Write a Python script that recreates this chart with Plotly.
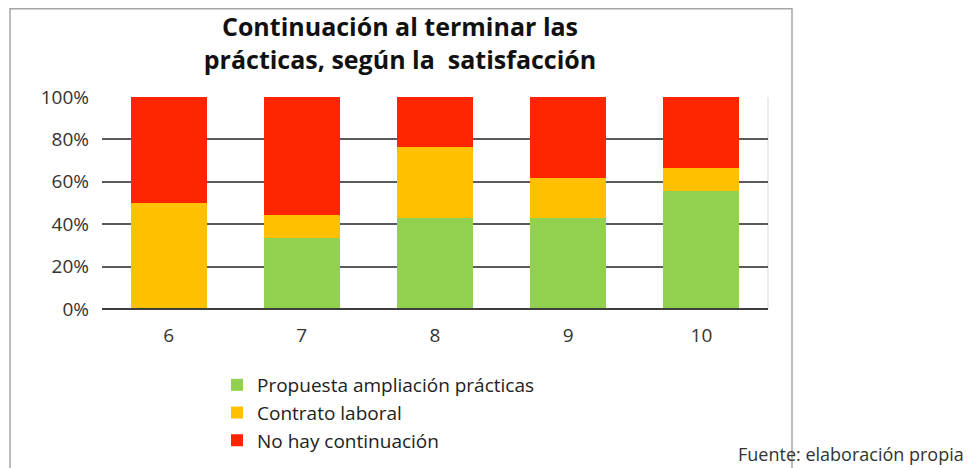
import plotly.graph_objects as go

categories = ["6", "7", "8", "9", "10"]
propuesta = [0, 33.3, 42.9, 42.9, 55.6]
contrato = [50, 11.1, 33.3, 19.0, 11.1]
no_continua = [50, 55.6, 23.8, 38.1, 33.3]
series_names = ["Propuesta ampliación prácticas", "Contrato laboral", "No hay continuación"]
colors = ["#92D050", "#FFC000", "#FF2500"]
y_ticks = [0, 20, 40, 60, 80, 100]
y_labels = ["0%", "20%", "40%", "60%", "80%", "100%"]

FONT = "Open Sans"
fig = go.Figure()
for name, vals, col in zip(series_names, [propuesta, contrato, no_continua], colors):
    fig.add_trace(go.Bar(x=categories, y=vals, name=name, marker_color=col,
                         marker_line_width=0))

# page body has an 8px margin, so figure coords = reference coords - 8
OFF = 8
L, R, T, B = 102 - OFF, 768 - OFF, 97 - OFF, 309 - OFF
W, H = R - L, B - T
def px(x): return (x - OFF - L) / W
def py(y): return (B - (y - OFF)) / H

fig.update_layout(
    width=976, height=468,
    margin=dict(l=L, r=976 - R, t=T, b=468 - B),
    paper_bgcolor="white", plot_bgcolor="white",
    barmode="stack", bargap=0.43,
    font=dict(family=FONT, size=19, color="#333333"),
    title=dict(text="<b>Continuación al terminar las<br>prácticas, según la  satisfacción</b>",
               x=px(400), xanchor="center", xref="paper",
               y=1 - (36 - OFF) / 468, yanchor="middle",
               font=dict(family=FONT, size=25, color="#111111")),
    xaxis=dict(type="category", showgrid=False, showline=False, ticks="",
               ticklabelstandoff=13, tickfont=dict(size=19, color="#333333")),
    yaxis=dict(range=[0, 100], tickvals=y_ticks, ticktext=y_labels,
               showgrid=True, gridcolor="#5a5a5a", gridwidth=2,
               zeroline=False, showline=False, ticks="",
               ticklabelstandoff=12, tickfont=dict(size=19, color="#333333")),
    legend=dict(x=px(217), y=py(366), xanchor="left", yanchor="top",
                orientation="v", font=dict(size=19, color="#222222"),
                traceorder="normal", bgcolor="rgba(0,0,0,0)"),
    showlegend=True,
)
# bottom axis line
fig.add_shape(type="line", xref="paper", yref="paper", x0=0, x1=1, y0=0, y1=0,
              line=dict(color="#3e3e3e", width=2), layer="above")
# faint right edge
fig.add_shape(type="line", xref="paper", yref="paper", x0=1, x1=1, y0=0, y1=1,
              line=dict(color="#d8d8d8", width=1), layer="below")
# chart border
fig.add_shape(type="rect", xref="paper", yref="paper",
              x0=px(10), x1=px(792), y0=py(490), y1=py(8.7),
              line=dict(color="#a6a6a6", width=1.5), layer="below")
fig.add_annotation(text="Fuente: elaboración propia", xref="paper", yref="paper",
                   x=px(966), y=py(454), xanchor="right", yanchor="middle",
                   showarrow=False, font=dict(size=18, color="#333333"))

fig.write_html("out.html")
